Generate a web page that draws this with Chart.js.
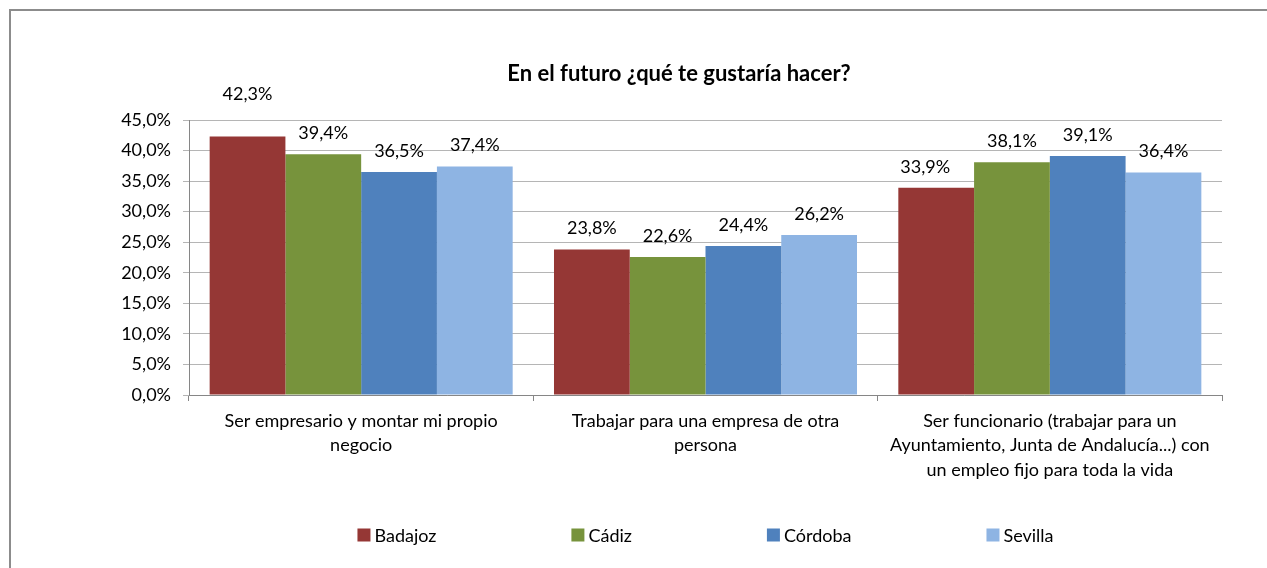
<!DOCTYPE html>
<html>
<head>
<meta charset="utf-8">
<script src="https://cdn.jsdelivr.net/npm/chart.js@4/dist/chart.umd.min.js"></script>
<style>
  html, body { margin: 0; padding: 0; background: #fff; overflow: hidden; }
  #wrap { position: relative; width: 1267px; height: 568px; }
  #frame {
    position: absolute; left: 9px; top: 9px; width: 1300px; height: 600px;
    border-left: 2px solid #8c8c8c; border-top: 2px solid #8c8c8c;
    pointer-events: none;
  }
</style>
</head>
<body>
<div id="wrap">
  <canvas id="chart" width="1267" height="568"></canvas>
  <div id="frame"></div>
</div>
<script>
// =============================
// Data
// =============================

const categories = [
    ["Ser empresario y montar mi propio", "negocio"],
    ["Trabajar para una empresa de otra", "persona"],
    ["Ser funcionario (trabajar para un", "Ayuntamiento, Junta de Andalucía...) con", "un empleo fijo para toda la vida"]
];

const seriesNames = ["Badajoz", "Cádiz", "Córdoba", "Sevilla"];

const badajoz = [42.3, 23.8, 33.9];
const cadiz = [39.4, 22.6, 38.1];
const cordoba = [36.5, 24.4, 39.1];
const sevilla = [37.4, 26.2, 36.4];

const yTicks = [0, 5, 10, 15, 20, 25, 30, 35, 40, 45];

const colors = ["#953735", "#77933C", "#4F81BD", "#8EB4E3"];

const FONT = "Lato, 'Open Sans', sans-serif";

function pct(v) {
    return v.toFixed(1).replace(".", ",") + "%";
}


// =============================
// Value labels above bars
// =============================

const valueLabels = {
    id: "valueLabels",
    afterDatasetsDraw(chart, args, opts) {
        const ctx = chart.ctx;
        ctx.save();
        ctx.font = "18px " + FONT;
        ctx.fillStyle = "#000";
        ctx.textAlign = "center";
        ctx.textBaseline = "middle";
        chart.data.datasets.forEach((ds, i) => {
            chart.getDatasetMeta(i).data.forEach((bar, j) => {
                const nudge = opts.nudges[i + "-" + j] || [0, 0];
                ctx.fillText(pct(ds.data[j]), bar.x + nudge[0], bar.y - 21 + nudge[1]);
            });
        });
        ctx.restore();
    }
};


// =============================
// Legend (wide spacing like the original)
// =============================

const wideLegend = {
    id: "wideLegend",
    afterDraw(chart) {
        const ctx = chart.ctx;
        const area = chart.chartArea;
        const box = 13, gap = 4, spacing = 135;
        ctx.save();
        ctx.font = "18px " + FONT;
        const widths = chart.data.datasets.map(ds => box + gap + ctx.measureText(ds.label).width);
        const total = widths.reduce((a, b) => a + b, 0) + spacing * (widths.length - 1);
        let x = (area.left + area.right) / 2 - total / 2;
        const y = area.bottom + 140;
        ctx.textBaseline = "middle";
        ctx.textAlign = "left";
        chart.data.datasets.forEach((ds, i) => {
            ctx.fillStyle = ds.backgroundColor;
            ctx.fillRect(x, y - box / 2, box, box);
            ctx.fillStyle = "#000";
            ctx.fillText(ds.label, x + box + gap, y + 1);
            x += widths[i] + spacing;
        });
        ctx.restore();
    }
};


// =============================
// Title shift (the original title sits right of centre)
// =============================

const titleShift = {
    id: "titleShift",
    afterLayout(chart) {
        chart.titleBlock.left = 136;
    }
};


// =============================
// Chart
// =============================

const ctx = document.getElementById("chart");

new Chart(ctx, {

    type: "bar",

    data: {

        labels: categories,

        datasets: [badajoz, cadiz, cordoba, sevilla].map((values, i) => ({
            label: seriesNames[i],
            data: values,
            backgroundColor: colors[i],
            borderWidth: 0,
            categoryPercentage: 0.88,
            barPercentage: 1
        }))

    },

    options: {

        responsive: false,
        animation: false,

        layout: {
            padding: { left: 10, right: 45, top: 10, bottom: 63 }
        },

        plugins: {
            legend: { display: false },
            tooltip: { enabled: false },
            title: {
                display: true,
                text: "En el futuro ¿qué te gustaría hacer?",
                color: "#000",
                font: { family: FONT, size: 22, weight: "bold", lineHeight: 1.2 },
                padding: { top: 51, bottom: 32.6 }
            },
            valueLabels: {
                nudges: { "0-0": [0, -21], "0-2": [-11, 0] }
            }
        },

        scales: {

            x: {
                grid: {
                    offset: true,
                    drawOnChartArea: false,
                    tickLength: 6,
                    color: "#868686"
                },
                border: { color: "#868686", width: 1 },
                ticks: {
                    color: "#000",
                    font: { family: FONT, size: 18, lineHeight: 1.35 },
                    padding: 8,
                    maxRotation: 0,
                    autoSkip: false
                },
                afterFit(scale) {
                    scale.height = 110;
                }
            },

            y: {
                min: 0,
                max: 45,
                afterBuildTicks(scale) {
                    scale.ticks = yTicks.map(v => ({ value: v }));
                },
                grid: {
                    color: "#B5B5B5",
                    tickLength: 6
                },
                border: { color: "#868686", width: 1 },
                ticks: {
                    color: "#000",
                    font: { family: FONT, size: 18 },
                    padding: 12,
                    callback: v => pct(v)
                },
                afterFit(scale) {
                    scale.width = 179;
                }
            }

        }

    },

    plugins: [valueLabels, wideLegend, titleShift]

});
</script>
</body>
</html>
